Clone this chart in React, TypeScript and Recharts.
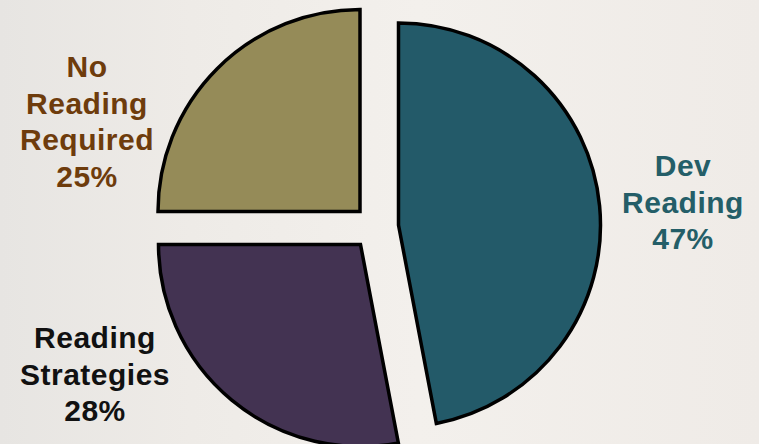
import { PieChart, Pie, Cell } from "recharts";

// share of students by reading placement
const categories = ["Dev Reading", "Reading Strategies", "No Reading Required"];
const shares = [47, 28, 25];

const sliceFills = ["#235a69", "#433352", "#958b58"];
const labelColors = ["#245e68", "#111111", "#6e3c0c"];

// each slice is pulled out of the pie, so each gets its own centre
const sliceCentres = [
  [398.5, 225],
  [360.5, 244.5],
  [360, 211.5],
];
const labelAnchors = [
  [683, 176],
  [95, 348],
  [87, 77],
];

const data = categories.map((name, i) => ({ name, value: shares[i] }));

function makeLabel(target: number) {
  return (props: any) => {
    if (props.index !== target) return null;
    const [x, y] = labelAnchors[target];
    const lines = [...String(props.name).split(" "), `${shares[target]}%`];
    return (
      <text
        x={x}
        y={y}
        textAnchor="middle"
        fill={labelColors[target]}
        fontFamily="'Liberation Sans', Arial, sans-serif"
        fontWeight="bold"
        fontSize={30}
        letterSpacing={0.5}
      >
        {lines.map((l, k) => (
          <tspan key={k} x={x} dy={k === 0 ? 0 : 36.5}>
            {l}
          </tspan>
        ))}
      </text>
    );
  };
}

export default function App() {
  return (
    <div
      style={{
        position: "absolute",
        left: 0,
        top: 0,
        width: 759,
        height: 444,
        overflow: "hidden",
        background:
          "linear-gradient(90deg, #e7e5e2 0%, #eeebe7 25%, #f3f0ec 55%, #efebe7 100%)",
      }}
    >
      <PieChart width={759} height={444} margin={{ top: 0, right: 0, bottom: 0, left: 0 }}>
        {sliceCentres.map(([cx, cy], s) => (
          <Pie
            key={s}
            data={data}
            dataKey="value"
            nameKey="name"
            cx={cx}
            cy={cy}
            innerRadius={0}
            outerRadius={202}
            startAngle={90}
            endAngle={-270}
            isAnimationActive={false}
            labelLine={false}
            label={makeLabel(s)}
          >
            {data.map((d, i) => (
              <Cell
                key={d.name}
                fill={i === s ? sliceFills[i] : "transparent"}
                stroke={i === s ? "#000" : "none"}
                strokeWidth={3.5}
              />
            ))}
          </Pie>
        ))}
      </PieChart>
    </div>
  );
}
